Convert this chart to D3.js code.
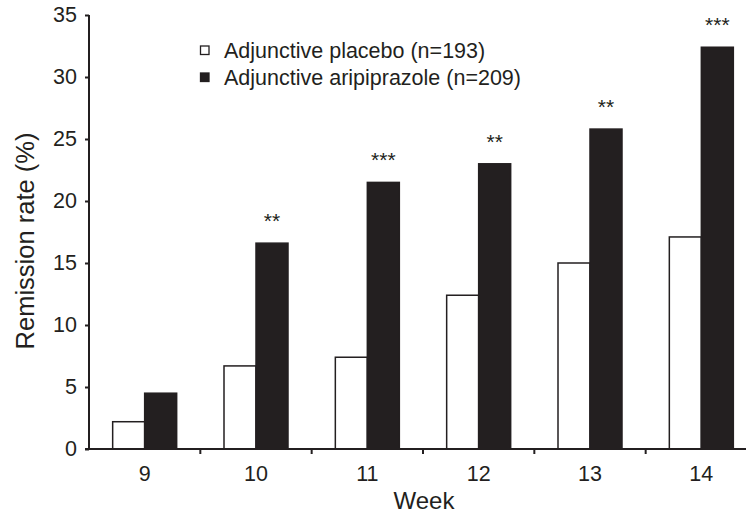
<!DOCTYPE html>
<html>
<head>
<meta charset="utf-8">
<script src="https://d3js.org/d3.v7.min.js"></script>
<style>
  * { margin: 0; padding: 0; }
  body { background: #fff; width: 746px; height: 516px; overflow: hidden; }
  svg { display: block; font-family: 'Liberation Sans', Arial, Helvetica, sans-serif; }
</style>
</head>
<body>
<svg id="chart" width="746" height="516"></svg>
<script>
  const weeks = ["9", "10", "11", "12", "13", "14"];
  const placebo = [2.2, 6.7, 7.4, 12.4, 15.0, 17.1];
  const aripiprazole = [4.5, 16.6, 21.5, 23.0, 25.8, 32.4];
  const significance = ["", "**", "***", "**", "**", "***"];
  const yTicks = [0, 5, 10, 15, 20, 25, 30, 35];
  const seriesNames = ["Adjunctive placebo (n=193)", "Adjunctive aripiprazole (n=209)"];

  (function() {
    const ink = "#231f20";
    const svg = d3.select("#chart");
    const plotLeft = 89, plotRight = 757, plotTop = 15, plotBottom = 449;

    const x = d3.scaleBand().domain(weeks).range([plotLeft, plotRight]).padding(0);
    const barW = 32;
    const xs = d3.scaleBand().domain([0, 1]).range([-barW, barW]);
    const y = d3.scaleLinear().domain([0, 35]).range([plotBottom, plotTop]);

    const rows = weeks.map((w, i) => ({ week: w, vals: [placebo[i], aripiprazole[i]], sig: significance[i] }));

    // bars
    const g = svg.append("g");
    rows.forEach(r => {
      const cx = x(r.week) + x.bandwidth() / 2;
      r.vals.forEach((v, k) => {
        g.append("rect")
          .attr("x", cx + xs(k))
          .attr("y", y(v))
          .attr("width", xs.bandwidth())
          .attr("height", y(0) - y(v))
          .attr("fill", k === 0 ? "#fff" : ink)
          .attr("stroke", ink)
          .attr("stroke-width", 1.5);
      });
      if (r.sig) {
        g.append("text")
          .attr("x", cx + xs(1) + xs.bandwidth() / 2)
          .attr("y", y(r.vals[1]) - 15)
          .attr("text-anchor", "middle")
          .attr("font-size", 21)
          .attr("fill", ink)
          .text(r.sig);
      }
    });

    // y axis
    const yAxis = svg.append("g")
      .attr("transform", `translate(${plotLeft},0)`)
      .call(d3.axisLeft(y).tickValues(yTicks).tickSize(4).tickPadding(8));
    yAxis.selectAll("path, line").attr("stroke", ink).attr("stroke-width", 2);
    yAxis.select(".domain").attr("d", `M0,${plotTop}V${plotBottom}`);
    yAxis.selectAll("text").attr("font-size", 21.5).attr("fill", ink);
    yAxis.attr("font-family", null).attr("font-size", null);

    // x axis
    const xAxis = svg.append("g").attr("transform", `translate(0,${plotBottom})`);
    xAxis.append("line").attr("x1", plotLeft - 4).attr("x2", plotRight)
      .attr("stroke", ink).attr("stroke-width", 2);
    xAxis.selectAll(".tick")
      .data(weeks.slice(1))
      .join("line")
      .attr("class", "tick")
      .attr("x1", d => x(d)).attr("x2", d => x(d))
      .attr("y1", 0).attr("y2", 5)
      .attr("stroke", ink).attr("stroke-width", 2);
    xAxis.selectAll(".lab")
      .data(weeks)
      .join("text")
      .attr("class", "lab")
      .attr("x", d => x(d) + x.bandwidth() / 2)
      .attr("y", 32)
      .attr("text-anchor", "middle")
      .attr("font-size", 21.5)
      .attr("fill", ink)
      .text(d => d);

    // axis titles
    svg.append("text")
      .attr("x", 424).attr("y", 509)
      .attr("text-anchor", "middle")
      .attr("font-size", 24)
      .attr("fill", ink)
      .text("Week");
    svg.append("text")
      .attr("transform", "translate(34,241) rotate(-90)")
      .attr("text-anchor", "middle")
      .attr("font-size", 25.5)
      .attr("fill", ink)
      .text("Remission rate (%)");

    // legend
    const legend = svg.append("g").attr("transform", "translate(200,46)");
    seriesNames.forEach((name, k) => {
      const row = legend.append("g").attr("transform", `translate(0,${k * 27})`);
      row.append("rect")
        .attr("x", 0.5).attr("y", 0).attr("width", 8.5).attr("height", 8.5)
        .attr("fill", k === 0 ? "#fff" : ink)
        .attr("stroke", ink).attr("stroke-width", 1.3);
      row.append("text")
        .attr("x", 24).attr("y", 12)
        .attr("font-size", 21.5)
        .attr("fill", ink)
        .text(name);
    });
  })();
</script>
</body>
</html>
